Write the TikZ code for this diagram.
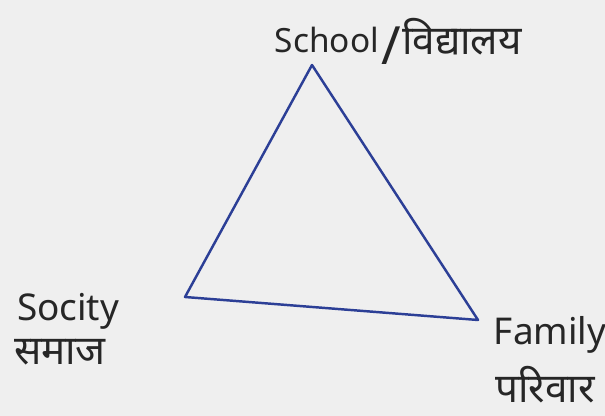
\documentclass[tikz,border=0pt]{standalone}
\usepackage{fontspec}
\setmainfont{Noto Sans}
\newfontfamily\hindifont[Script=Devanagari]{Noto Sans}
\usepackage{xcolor}
\usepackage{tikz}

\definecolor{penblue}{HTML}{2C3F96}
\definecolor{inkgray}{HTML}{262626}
\definecolor{paper}{HTML}{EFEFEF}

\begin{document}
\begin{tikzpicture}[
        corner/.style={
            inner sep=0pt
        },
        word/.style={
            text=inkgray,
            inner sep=1pt,
            font=\fontsize{21}{25}\selectfont
        },
        hindi/.style={
            text=inkgray,
            inner sep=1pt,
            font=\hindifont\fontsize{23}{27}\selectfont
        },
        side/.style={
            penblue,
            line width=1.4pt,
            line join=round
        }
    ]

    \fill[paper] (0,0) rectangle (12.1,8.32);
    \useasboundingbox (0,0) rectangle (12.1,8.32);

    \coordinate[corner] (school) at (6.24, 7.02);
    \coordinate[corner] (society) at (3.70, 2.38);
    \coordinate[corner] (family) at (9.56, 1.92);

    \node[word, anchor=east, font=\fontsize{19}{23}\selectfont] (schooltext) at (7.62, 7.52) {School};
    \node[text=inkgray, inner sep=0pt] (slash) at (7.82, 7.40) {\fontsize{30}{32}\selectfont /};
    \node[hindi, anchor=west] (vidyalaya) at (8.00, 7.58) {विद्यालय};

    \node[word] (societytext) at (1.36, 2.10) {Socity};
    \node[hindi] (samaj) at (1.20, 1.28) {समाज};

    \node[word] (familytext) at (11.0, 1.62) {Family};
    \node[hindi] (parivar) at (10.9, 0.62) {परिवार};

    \draw[side] (school) -- (family) -- (society) -- cycle;

\end{tikzpicture}
\end{document}
